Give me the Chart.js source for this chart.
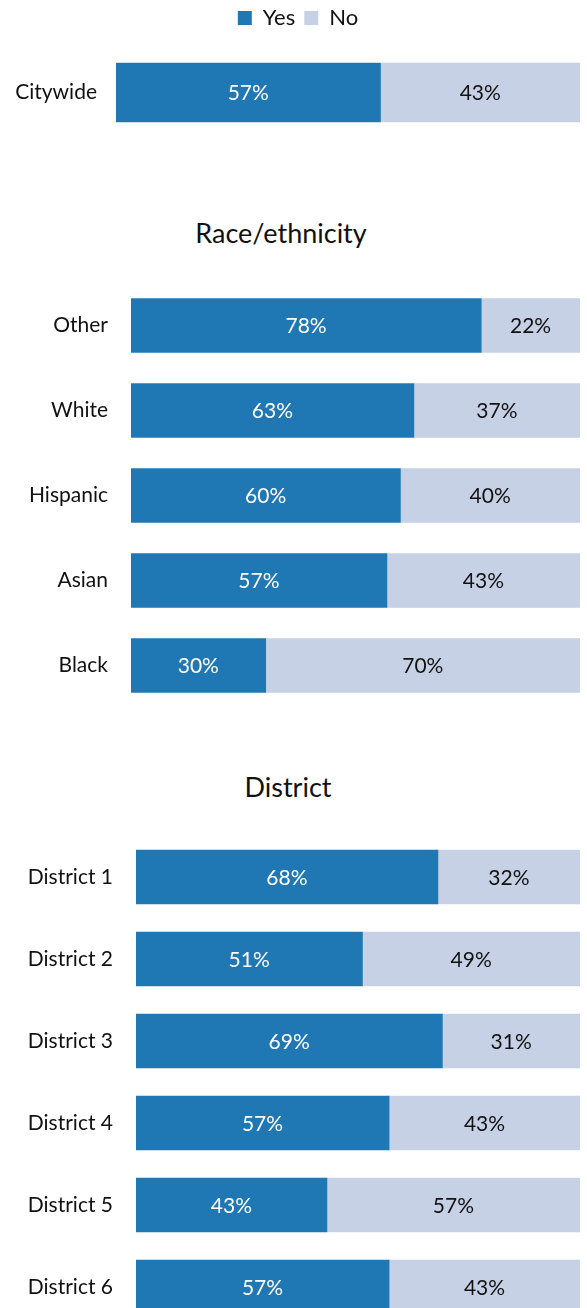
<!DOCTYPE html>
<html>
<head>
<meta charset="utf-8">
<script src="https://cdn.jsdelivr.net/npm/chart.js@4/dist/chart.umd.min.js"></script>
<style>
  html,body{margin:0;padding:0;background:#fff;width:587px;height:1308px;overflow:hidden;}
  .box{position:absolute;}
  .ttl{position:absolute;font-family:Lato, "Liberation Sans", sans-serif;font-size:27px;color:#111;text-align:center;white-space:nowrap;transform:translateX(-50%);line-height:32px;}
</style>
</head>
<body>
<div class="box" style="left:0;top:-2px;width:580px;height:148px;"><canvas id="c1" width="580" height="148"></canvas></div>
<div class="ttl" style="left:281px;top:217px;">Race/ethnicity</div>
<div class="box" style="left:0;top:283px;width:580px;height:425px;"><canvas id="c2" width="580" height="425"></canvas></div>
<div class="ttl" style="left:288px;top:771px;">District</div>
<div class="box" style="left:0;top:836px;width:580px;height:492px;"><canvas id="c3" width="580" height="492"></canvas></div>
<script>
const seriesNames = ['Yes', 'No'];
const cityCategories = ['Citywide'];
const cityYes = [57];
const cityNo = [43];
const raceCategories = ['Other', 'White', 'Hispanic', 'Asian', 'Black'];
const raceYes = [78, 63, 60, 57, 30];
const raceNo = [22, 37, 40, 43, 70];
const districtCategories = ['District 1', 'District 2', 'District 3', 'District 4', 'District 5', 'District 6'];
const districtYes = [68, 51, 69, 57, 43, 57];
const districtNo = [32, 49, 31, 43, 57, 43];

const YES_COLOR = '#1F77B4';
const NO_COLOR = '#C6D1E6';
const FONT = 'Lato, "Liberation Sans", sans-serif';

const valueLabels = {
  id: 'valueLabels',
  afterDatasetsDraw(chart) {
    const ctx = chart.ctx;
    ctx.save();
    ctx.font = '21px ' + FONT;
    ctx.textAlign = 'center';
    ctx.textBaseline = 'middle';
    chart.data.datasets.forEach((ds, di) => {
      const meta = chart.getDatasetMeta(di);
      meta.data.forEach((el, i) => {
        const p = el.getProps(['x', 'y', 'base'], true);
        ctx.fillStyle = di === 0 ? '#ffffff' : '#111111';
        ctx.fillText(ds.data[i] + '%', (p.x + p.base) / 2, p.y + 1);
      });
    });
    ctx.restore();
  }
};

function makeChart(id, cats, yes, no, leftPad, axisWidth, thickness, pad, showLegend) {
  return new Chart(document.getElementById(id), {
    type: 'bar',
    data: {
      labels: cats,
      datasets: [
        { label: seriesNames[0], data: yes, backgroundColor: YES_COLOR, barThickness: thickness, borderWidth: 0 },
        { label: seriesNames[1], data: no, backgroundColor: NO_COLOR, barThickness: thickness, borderWidth: 0 }
      ]
    },
    options: {
      indexAxis: 'y',
      responsive: false,
      animation: false,
      devicePixelRatio: 1,
      layout: { padding: { left: leftPad, right: 0, top: 0, bottom: 0 } },
      plugins: {
        legend: {
          display: showLegend,
          position: 'top',
          labels: { font: { family: FONT, size: 22 }, color: '#111', boxWidth: 14, boxHeight: 14, padding: 9 }
        },
        tooltip: { enabled: false },
        title: { display: false }
      },
      scales: {
        x: { stacked: true, min: 0, max: 100, display: false },
        y: {
          stacked: true,
          grid: { display: false, drawTicks: false },
          border: { display: false },
          ticks: { font: { family: FONT, size: 21 }, color: '#111', padding: pad },
          afterFit(scale) {
            scale.width = axisWidth;
            scale.paddingTop = 0;
            scale.paddingBottom = 0;
          }
        }
      }
    },
    plugins: [valueLabels]
  });
}

makeChart('c1', cityCategories, cityYes, cityNo, 16, 100, 59, 19, true);
makeChart('c2', raceCategories, raceYes, raceNo, 0, 131, 54, 23, false);
makeChart('c3', districtCategories, districtYes, districtNo, 0, 136, 54, 23, false);
</script>
</body>
</html>
